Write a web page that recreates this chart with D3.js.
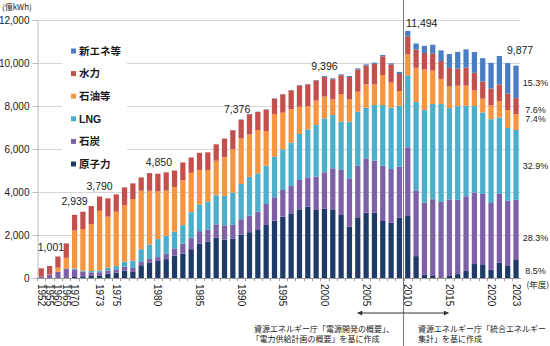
<!DOCTYPE html>
<html><head><meta charset="utf-8">
<script src="https://cdn.jsdelivr.net/npm/d3@7"></script>
<style>
html,body{margin:0;padding:0;background:#fff;}
svg{display:block;}
text{font-family:"Liberation Sans",Arial,sans-serif;fill:#1a1a1a;}
.jp{font-family:"Noto Sans CJK JP","Noto Sans",sans-serif;}
</style></head><body>
<svg id="c" width="550" height="346"></svg>
<script>
// ---------- data (億kWh) ----------
const years = ["1952","1955","1960","1965","1970","1971","1972","1973","1974","1975","1976","1977","1978","1979","1980","1981","1982","1983","1984","1985","1986","1987","1988","1989","1990","1991","1992","1993","1994","1995","1996","1997","1998","1999","2000","2001","2002","2003","2004","2005","2006","2007","2008","2009","2010","2011","2012","2013","2014","2015","2016","2017","2018","2019","2020","2021","2022","2023"];
const nuclear = [0,0,0,0,46,80,95,97,197,251,343,280,594,701,820,878,1037,1140,1341,1590,1684,1876,1786,1822,2014,2131,2232,2465,2667,2853,3008,3194,3318,3163,3219,3194,2930,2387,2822,3039,3039,2651,2574,2806,2882,1018,159,93,0,94,181,329,649,638,388,708,560,839];
const coal = [70,150,290,440,340,217,170,170,155,155,186,186,155,186,150,248,341,465,512,589,574,620,667,651,719,775,853,977,1085,1240,1271,1364,1364,1550,1700,1907,2093,2248,2403,2527,2418,2573,2496,2372,3199,3060,3340,3570,3540,3560,3460,3473,3320,3270,3102,3202,3040,2795];
const lng = [0,0,0,0,60,47,62,78,124,155,232,341,589,666,840,837,775,853,1209,1240,1287,1349,1364,1504,1639,1798,1783,1783,1891,1891,2015,2139,2232,2403,2510,2480,2248,2636,2511,2356,2589,2822,2853,2837,3339,4110,4320,4430,4560,4250,4350,4204,4028,3790,3899,3557,3380,3250];
const oil = [0,10,190,500,1763,1934,2184,2779,2377,2523,2632,2865,2722,2505,2220,2100,2070,2080,1830,1597,1480,1612,1814,2015,2120,1969,2015,1612,1984,1705,1550,1271,1085,1132,1010,729,1287,1039,930,1085,961,1395,1163,682,983,1590,1880,1560,1160,1000,950,940,738,640,636,759,830,731];
const hydro = [380,400,521,670,730,806,837,666,852,806,822,729,620,822,820,852,775,837,713,806,822,760,853,880,870,945,838,993,714,853,883,990,1005,943,920,940,875,1040,1035,875,950,870,835,790,838,849,765,794,835,870,795,838,810,796,784,776,770,751];
const newEnergy = [0,0,0,0,0,0,0,0,0,0,0,0,0,0,0,0,0,0,0,0,0,0,0,10,14,15,15,15,15,16,17,18,18,18,37,37,40,45,50,55,60,62,65,100,253,280,330,400,490,640,780,850,967,1090,1200,1325,1420,1511];

const seriesNames = ["原子力","石炭","LNG","石油等","水力","新エネ等"];
const tickYears = ["1952","1955","1960","1965","1970","1973","1975","1980","1985","1990","1995","2000","2005","2010","2015","2020","2023"];
const yTicks = [0,2000,4000,6000,8000,10000,12000];
const totalLabelYears = ["1960","1970","1973","1980","1990","2000","2010","2023"];
const totalLabelTexts = ["1,001","2,939","3,790","4,850","7,376","9,396","11,494","9,877"];
const shareLabels = ["8.5%","28.3%","32.9%","7.4%","7.6%","15.3%"]; // FY2023 shares, stack order
const sourceLeft = ["資源エネルギー庁「電源開発の概要」、","「電力供給計画の概要」を基に作成"];
const sourceRight = ["資源エネルギー庁「統合エネルギー","集計」を基に作成"];

// ---------- layout / style ----------
const colors = ["#203a68","#7d60a7","#4bafcc","#f7943f","#c3504c","#4a7ec2"];
const totalLabelOffset = [[-7,9],[0,13],[0,10.5],[1,11.5],[-4,10.5],[0,9.5],[14,7.5],[4,15]];
const shareNudge = [1.5,8,0.5,-3.5,3.5,1];

const svg = d3.select("#c");
svg.append("rect").attr("width",550).attr("height",346).attr("fill","#fff");

const x = d3.scaleBand(years,[37.1,520.2]).paddingInner(0.37).paddingOuter(0.185);
const y = d3.scaleLinear([0,12000],[278,20]);

const table = years.map((yr,i)=>({year:yr,"原子力":nuclear[i],"石炭":coal[i],"LNG":lng[i],"石油等":oil[i],"水力":hydro[i],"新エネ等":newEnergy[i]}));
const stacked = d3.stack().keys(seriesNames)(table);

// gridlines
svg.append("g").selectAll("line").data(yTicks.filter(d=>d>0)).join("line")
  .attr("x1",37).attr("x2",520).attr("y1",d=>y(d)+0.5).attr("y2",d=>y(d)+0.5)
  .attr("stroke","#d6d6d6").attr("stroke-width",1);

// y axis
const ya = svg.append("g").attr("transform","translate(37.5,0)")
  .call(d3.axisLeft(y).tickValues(yTicks).tickFormat(d3.format(",")).tickSize(5).tickPadding(3));
ya.select(".domain").attr("stroke","#bdbdbd");
ya.selectAll(".tick line").attr("stroke","#bdbdbd");
ya.selectAll("text").attr("font-size","10px").attr("fill","#1a1a1a").attr("font-family","Liberation Sans, Arial, sans-serif");

// bars
svg.append("g").selectAll("g").data(stacked).join("g")
  .attr("fill",(d,i)=>colors[i])
  .selectAll("rect").data(d=>d).join("rect")
  .attr("x",d=>x(d.data.year)).attr("width",x.bandwidth())
  .attr("y",d=>y(d[1])).attr("height",d=>Math.max(0,y(d[0])-y(d[1])));

// x axis
const xa = svg.append("g").attr("transform","translate(0,278)")
  .call(d3.axisBottom(x).tickValues(tickYears).tickSize(0));
xa.select(".domain").attr("stroke","#9a9a9a");
xa.selectAll("text").attr("transform","rotate(90)").attr("x",6).attr("y",0).attr("dy","0.35em")
  .style("text-anchor","start").attr("font-size","10px").attr("fill","#1a1a1a")
  .attr("font-family","Liberation Sans, Arial, sans-serif");
// small category ticks between bars
svg.append("g").selectAll("line").data(years).join("line")
  .attr("x1",d=>Math.round(x(d)-x.step()*x.paddingInner()/2)+0.5)
  .attr("x2",d=>Math.round(x(d)-x.step()*x.paddingInner()/2)+0.5)
  .attr("y1",278).attr("y2",281).attr("stroke","#9a9a9a");

// total labels
const totalOf = yr => { const i = years.indexOf(yr); return nuclear[i]+coal[i]+lng[i]+oil[i]+hydro[i]+newEnergy[i]; };
svg.append("g").selectAll("text").data(totalLabelYears).join("text")
  .attr("x",(d,i)=>x(d)+x.bandwidth()/2+totalLabelOffset[i][0])
  .attr("y",(d,i)=>y(totalOf(d))-totalLabelOffset[i][1])
  .attr("dy","0.35em").attr("text-anchor","middle").attr("font-size","10.5px")
  .text((d,i)=>totalLabelTexts[i]);

// share labels for latest year
const last = years.length-1;
svg.append("g").selectAll("text").data(stacked).join("text")
  .attr("x",535.5).attr("y",(s,i)=>y((s[last][0]+s[last][1])/2)+shareNudge[i])
  .attr("dy","0.35em").attr("text-anchor","middle").attr("font-size","9px")
  .text((s,i)=>shareLabels[i]);

// legend
svg.append("rect").attr("x",62).attr("y",32).attr("width",65).attr("height",143).attr("fill","#fff");
const legOrder = seriesNames.map((n,i)=>({n,i})).reverse();
const lg = svg.append("g").selectAll("g").data(legOrder).join("g")
  .attr("transform",(d,k)=>`translate(71,${51+k*22.6})`);
lg.append("rect").attr("x",0).attr("y",-2.5).attr("width",5).attr("height",5).attr("fill",d=>colors[d.i]);
lg.append("text").attr("x",8).attr("y",0).attr("dy","0.36em").attr("font-size","10.5px").attr("font-weight","bold")
  .attr("class",d=>d.n==="LNG"?"":"jp").attr("fill","#222").text(d=>d.n);

// unit labels
svg.append("text").attr("class","jp").attr("x",2).attr("y",9.5).attr("font-size","8px").text("(億kWh)");
svg.append("text").attr("class","jp").attr("x",526.5).attr("y",287.5).attr("font-size","8.5px").text("(年度)");

// divider between data sources
const divX = Math.round(x("2010")-x.step()*x.paddingInner()/2)-0.5;
svg.append("line").attr("x1",divX).attr("x2",divX).attr("y1",0).attr("y2",346).attr("stroke","#7a7a7a").attr("stroke-width",1);

// arrows
const defs = svg.append("defs");
defs.append("marker").attr("id","ah").attr("viewBox","0 0 10 10").attr("refX",9).attr("refY",5)
  .attr("markerWidth",6).attr("markerHeight",5).attr("orient","auto-start-reverse").attr("markerUnits","userSpaceOnUse")
  .append("path").attr("d","M0,0 L10,5 L0,10 Z").attr("fill","#333");
const arrowY = 313;
svg.append("line").attr("x1",divX).attr("x2",x("2004")+x.bandwidth()/2).attr("y1",arrowY).attr("y2",arrowY)
  .attr("stroke","#333").attr("stroke-width",1).attr("marker-end","url(#ah)");
svg.append("line").attr("x1",divX).attr("x2",x("2015")+x.bandwidth()/2-1).attr("y1",arrowY).attr("y2",arrowY)
  .attr("stroke","#333").attr("stroke-width",1).attr("marker-end","url(#ah)");

// sources
svg.append("g").selectAll("text").data(sourceLeft).join("text").attr("class","jp")
  .attr("x",(d,i)=>i===0?254:251.5).attr("y",(d,i)=>331.5+i*10).attr("font-size","8px").text(d=>d);
svg.append("g").selectAll("text").data(sourceRight).join("text").attr("class","jp")
  .attr("x",418).attr("y",(d,i)=>331.5+i*10).attr("font-size","8px").text(d=>d);
</script>
</body></html>
